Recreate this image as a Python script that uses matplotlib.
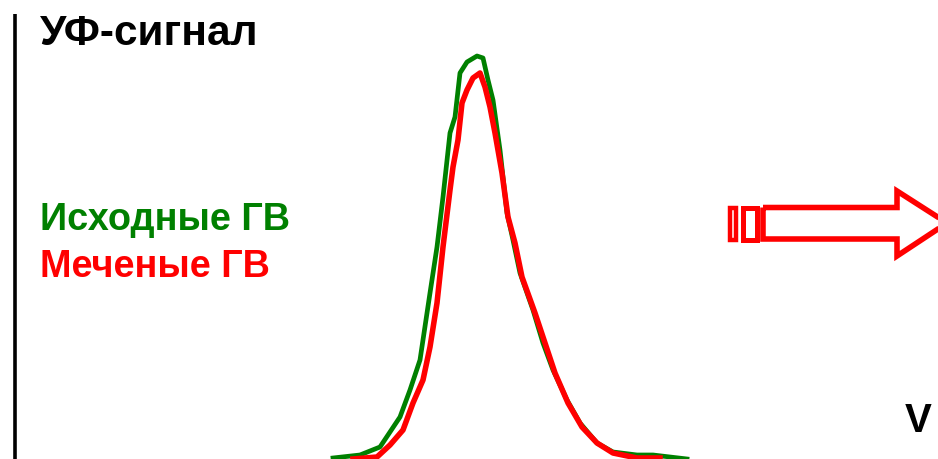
import matplotlib.pyplot as plt
from matplotlib.patches import Polygon, Rectangle

plt.rcParams['font.family'] = ['Liberation Sans', 'DejaVu Sans']

# elution profiles (x in figure px, signal height above baseline)
vol_green = [333, 360, 380, 400, 410, 420, 430, 437, 443, 450, 455, 460, 467, 477, 483, 488,
             493, 500, 507, 513, 520, 533, 543, 553, 567, 580, 597, 613, 637, 653, 670, 687]
sig_green = [1, 4, 12, 42, 69, 99, 166, 212, 262, 326, 342, 386, 397, 403, 401, 379,
             359, 309, 246, 219, 186, 149, 116, 89, 59, 36, 16, 7, 4, 4, 2, 0]
vol_red = [353, 377, 390, 403, 413, 423, 430, 437, 443, 450, 453, 458, 462, 467, 473, 480,
           485, 490, 495, 502, 508, 515, 522, 535, 545, 555, 568, 582, 597, 613, 637, 660]
sig_red = [0, 2, 14, 29, 56, 79, 112, 156, 212, 269, 292, 319, 356, 369, 381, 386,
           372, 352, 326, 286, 242, 216, 182, 146, 116, 86, 56, 32, 16, 6, 1, 1]

W, H = 938, 459
fig = plt.figure(figsize=(W / 100, H / 100), dpi=100)
ax = fig.add_axes([0, 0, 1, 1])
ax.set_xlim(0, W)
ax.set_ylim(0, H)
ax.axis('off')

# ось сигнала
ax.plot([14.5, 14.5], [-5, H - 14], color='black', linewidth=2.6, solid_capstyle='butt')

ax.plot(vol_green, sig_green, color='green', linewidth=3.4, solid_joinstyle='round')
ax.plot(vol_red, sig_red, color='red', linewidth=4.0, solid_joinstyle='round')

# стрелка
def py(v):
    return H - v

arrow = [(763, py(207.5)), (897, py(207.5)), (897, py(191)), (947, py(223)),
         (897, py(256)), (897, py(239)), (763, py(239))]
ax.add_patch(Polygon(arrow, closed=True, fill=False, edgecolor='red',
                     linewidth=4.0, joinstyle='miter', clip_on=True))
ax.add_patch(Rectangle((742.5, py(239.5)), 14.5, 31.5, fill=False, edgecolor='red', linewidth=3.6))
ax.add_patch(Rectangle((729.5, py(239.5)), 6.0, 31.5, fill=False, edgecolor='red', linewidth=3.2))

ax.text(40, py(45), 'УФ-сигнал', fontsize=30.5, fontweight='bold', color='black', va='baseline')
ax.text(40, py(230), 'Исходные ГВ', fontsize=27.3, fontweight='bold', color='green', va='baseline')
ax.text(40, py(277), 'Меченые ГВ', fontsize=27.3, fontweight='bold', color='red', va='baseline')
ax.text(905, py(432), 'V', fontsize=29, fontweight='bold', color='black', va='baseline')

fig.savefig('out.png', dpi=100)
